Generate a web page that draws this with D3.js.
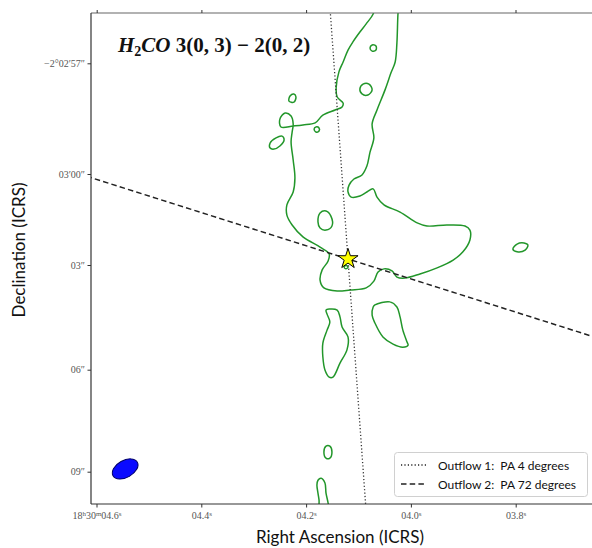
<!DOCTYPE html>
<html><head><meta charset="utf-8">
<script src="https://cdn.jsdelivr.net/npm/d3@7"></script>
<style>body{margin:0;background:#fff}svg{display:block}</style>
</head><body>
<svg id="chart" width="592" height="548"></svg>
<script>
// H2CO 3(0,3)-2(0,2) integrated-intensity contours around the protostar.
// Mark positions are offsets in arcsec from the source (east positive, north positive).

const sourceOffset = [0, 0];
const outflowPA = [4, 72];                 // position angles, degrees east of north
const outflowNames = ["Outflow 1:  PA 4 degrees", "Outflow 2:  PA 72 degrees"];
const outflowDash = ["1.2,2.2", "5.5,3.2"];

const raTicks = [4.6, 4.4, 4.2, 4.0, 3.8];  // seconds of RA (18h30m..)
const raTickLabels = [["18", "h", "30", "m", "04.6", "s"], ["04.4", "s"], ["04.2", "s"], ["04.0", "s"], ["03.8", "s"]];
const decTicks = [57, 60, 63, 66, 69];      // arcsec past -2°02'00"
const decTickLabels = ["−2°02′57″", "03′00″", "03″", "06″", "09″"];

const beamCenter = [6.38, -6.17];
const beamAxes = [0.80, 0.50];              // FWHM major, minor (arcsec)
const beamPA = -60;

// contour level 1 (closed loops, some clipped at the map edge)
const contourMain = [
  [-0.80,7.55],[-0.72,7.20],[-0.52,6.91],[-0.34,6.67],[-0.14,6.38],[0.00,6.14],[0.14,5.79],[0.26,5.50],
  [0.34,5.03],[0.31,4.76],[0.14,4.58],[0.17,4.47],[0.37,4.38],[0.72,4.23],[0.94,4.00],[1.29,3.94],
  [1.57,3.91],[1.92,3.88],[1.95,4.11],[1.80,4.29],[1.63,4.20],[1.57,3.97],[1.60,3.73],[1.63,3.44],
  [1.57,2.91],[1.52,2.38],[1.57,1.97],[1.75,1.59],[1.75,1.29],[1.60,1.00],[1.29,0.65],[0.80,0.35],
  [0.54,0.15],[0.57,-0.06],[0.74,-0.32],[0.80,-0.62],[0.69,-0.85],[0.31,-0.94],[-0.06,-0.91],[-0.52,-0.85],
  [-0.74,-0.65],[-0.86,-0.38],[-1.03,-0.29],[-1.26,-0.35],[-1.40,-0.53],[-1.63,-0.56],[-2.06,-0.44],[-2.55,-0.26],
  [-3.01,-0.03],[-3.29,0.21],[-3.49,0.56],[-3.49,0.85],[-3.35,0.97],[-2.83,1.00],[-2.26,0.97],[-1.98,1.06],
  [-1.49,1.38],[-1.03,1.59],[-0.83,1.82],[-0.72,2.06],[-0.54,1.97],[-0.34,1.85],[-0.09,1.82],[0.00,1.97],
  [-0.03,2.17],[-0.17,2.35],[-0.40,2.47],[-0.54,2.73],[-0.63,3.14],[-0.74,3.56],[-0.69,3.97],[-0.83,4.38],
  [-1.06,4.97],[-1.23,5.47],[-1.35,5.79],[-1.40,6.35],[-1.43,7.20],[-1.46,7.55]
];
const contourA = [[-0.63,6.20],[-0.69,6.29],[-0.80,6.26],[-0.80,6.14],[-0.69,6.11]];
const contourB = [[-0.34,5.00],[-0.43,5.14],[-0.60,5.14],[-0.69,4.97],[-0.57,4.82],[-0.40,4.85]];
const contourC = [[1.69,4.64],[1.66,4.79],[1.55,4.85],[1.49,4.76],[1.55,4.61]];
const contourD = [[0.97,3.82],[0.92,3.88],[0.83,3.85],[0.83,3.76],[0.92,3.73]];
const contourE = [[2.23,3.26],[2.23,3.41],[2.06,3.56],[1.89,3.61],[1.83,3.50],[1.95,3.32],[2.12,3.23]];
const contourF = [[0.86,1.09],[0.80,1.35],[0.63,1.41],[0.49,1.26],[0.46,0.97],[0.63,0.85],[0.80,0.91]];
const contourG = [[-4.72,0.29],[-4.84,0.44],[-5.04,0.47],[-5.15,0.41],[-5.07,0.26],[-4.84,0.21]];
const contourH = [[0.11,-0.24],[0.06,-0.18],[0.00,-0.24],[0.06,-0.29]];
const contourI = [
  [-0.77,-1.35],[-1.20,-1.26],[-1.40,-1.41],[-1.49,-1.70],[-1.57,-2.09],[-1.69,-2.44],[-1.72,-2.53],
  [-1.57,-2.59],[-1.29,-2.50],[-1.00,-2.29],[-0.77,-1.88],[-0.69,-1.65],[-0.72,-1.41]
];
const contourJ = [
  [0.63,-1.50],[0.54,-1.47],[0.31,-1.50],[0.23,-1.70],[0.17,-2.00],[0.00,-2.29],[0.03,-2.67],[0.23,-3.06],
  [0.43,-3.47],[0.54,-3.47],[0.66,-3.26],[0.72,-2.88],[0.72,-2.47],[0.60,-2.09],[0.52,-1.85],[0.60,-1.62]
];
const contourK = [[0.69,-5.67],[0.63,-5.50],[0.52,-5.50],[0.46,-5.67],[0.52,-5.85],[0.63,-5.85]];
const contourL = [
  [0.80,-7.44],[0.83,-7.08],[0.86,-6.88],[0.89,-6.64],[0.86,-6.50],[0.77,-6.44],[0.66,-6.58],[0.63,-6.88],
  [0.57,-7.17],[0.54,-7.44]
];
const contours = [contourMain, contourA, contourB, contourC, contourD, contourE, contourF,
                  contourG, contourH, contourI, contourJ, contourK, contourL];

const svg = d3.select("#chart");
const plot = {left: 91, right: 592, top: 13, bottom: 504};

// map offsets: east to the left, north up
const x = d3.scaleLinear().domain([7.358, -6.985]).range([plot.left, plot.right]);
const y = d3.scaleLinear().domain([7.229, -7.170]).range([plot.top, plot.bottom - 1]);

// world-coordinate tick positions along the frame
const raBottom = d3.scaleLinear().domain([4.6, 3.8]).range([96.5, 515.7]);
const raTop = d3.scaleLinear().domain([4.6, 3.8]).range([96.7, 515.5]);
const decAxis = d3.scaleLinear().domain(decTicks).range([63.3, 174, 265, 369.7, 471.7]);

svg.append("defs").append("clipPath").attr("id", "plotclip")
  .append("rect").attr("x", plot.left).attr("y", plot.top)
  .attr("width", plot.right - plot.left).attr("height", plot.bottom - plot.top);

const g = svg.append("g").attr("clip-path", "url(#plotclip)");

// contours
const contourLine = d3.line().x(d => x(d[0])).y(d => y(d[1])).curve(d3.curveCatmullRomClosed.alpha(0.5));
g.selectAll("path.contour").data(contours).join("path")
  .attr("class", "contour")
  .attr("d", contourLine)
  .attr("fill", "none")
  .attr("stroke", "#22962a")
  .attr("stroke-width", 1.5);

// outflow axes through the source
const reach = 20;
outflowPA.forEach((pa, i) => {
  const t = pa * Math.PI / 180;
  const ex = Math.sin(t), ny = Math.cos(t);
  g.append("line")
    .attr("x1", x(sourceOffset[0] - reach * ex)).attr("y1", y(sourceOffset[1] - reach * ny))
    .attr("x2", x(sourceOffset[0] + reach * ex)).attr("y2", y(sourceOffset[1] + reach * ny))
    .attr("stroke", i === 0 ? "#333" : "#222")
    .attr("stroke-width", i === 0 ? 1.3 : 1.5)
    .attr("stroke-dasharray", outflowDash[i]);
});

// synthesized beam
const pxPerArcsecX = Math.abs(x(1) - x(0));
const pxPerArcsecY = Math.abs(y(1) - y(0));
const bt = beamPA * Math.PI / 180;
const beamAngle = Math.atan2(-Math.cos(bt) * pxPerArcsecY, -Math.sin(bt) * pxPerArcsecX) * 180 / Math.PI;
g.append("ellipse")
  .attr("cx", x(beamCenter[0])).attr("cy", y(beamCenter[1]))
  .attr("rx", beamAxes[0] / 2 * pxPerArcsecX).attr("ry", beamAxes[1] / 2 * pxPerArcsecY)
  .attr("transform", `rotate(${beamAngle} ${x(beamCenter[0])} ${y(beamCenter[1])})`)
  .attr("fill", "#0a0aff").attr("stroke", "#000066").attr("stroke-width", 1);

// source
g.append("path")
  .attr("d", d3.symbol(d3.symbolStar, 125)())
  .attr("transform", `translate(${x(sourceOffset[0])},${y(sourceOffset[1])})`)
  .attr("fill", "#ffff00").attr("stroke", "#000").attr("stroke-width", 1);

// frame
svg.append("line").attr("x1", plot.left).attr("x2", plot.right).attr("y1", plot.top).attr("y2", plot.top)
  .attr("stroke", "#666").attr("stroke-width", 1.2);
svg.append("line").attr("x1", plot.left).attr("x2", plot.right).attr("y1", plot.bottom).attr("y2", plot.bottom)
  .attr("stroke", "#333").attr("stroke-width", 1.2);
svg.append("line").attr("x1", plot.left).attr("x2", plot.left).attr("y1", plot.top).attr("y2", plot.bottom)
  .attr("stroke", "#333").attr("stroke-width", 1.2);

const tickFont = "'Liberation Serif', 'DejaVu Serif', serif";

// RA axis (bottom) with labels, top frame ticks only
const xAxis = svg.append("g").attr("transform", `translate(0,${plot.bottom})`)
  .call(d3.axisBottom(raBottom).tickValues(raTicks).tickSize(3.5).tickFormat(""));
xAxis.select(".domain").remove();
xAxis.selectAll(".tick line").attr("stroke", "#333");
xAxis.selectAll(".tick").each(function(d, i) {
  const parts = raTickLabels[i];
  const t = d3.select(this).append("text").attr("y", 15).attr("text-anchor", "middle")
    .attr("fill", "#555").style("font-family", tickFont).style("font-size", "10px");
  parts.forEach((p, j) => {
    const sup = j % 2 === 1;
    t.append("tspan").text(p)
      .attr("dy", sup ? -3.5 : (j > 0 ? 3.5 : 0))
      .style("font-size", sup ? "7px" : "10px");
  });
});

const topAxis = svg.append("g").attr("transform", `translate(0,${plot.top})`)
  .call(d3.axisTop(raTop).tickValues(raTicks).tickSize(3).tickFormat(""));
topAxis.select(".domain").remove();
topAxis.selectAll(".tick line").attr("stroke", "#333");

// Dec axis (left)
const yAxis = svg.append("g").attr("transform", `translate(${plot.left},0)`)
  .call(d3.axisLeft(decAxis).tickValues(decTicks).tickSize(3.5).tickFormat((d, i) => decTickLabels[i]));
yAxis.select(".domain").remove();
yAxis.selectAll(".tick line").attr("stroke", "#333");
yAxis.selectAll(".tick text").attr("x", -6).attr("fill", "#555")
  .style("font-family", tickFont).style("font-size", "10px");

// axis titles
const sansFont = "Lato, 'Open Sans', 'DejaVu Sans', sans-serif";
svg.append("text").attr("x", 340).attr("y", 543).attr("text-anchor", "middle")
  .style("font-family", sansFont).style("font-size", "17px").attr("fill", "#111")
  .text("Right Ascension (ICRS)");
svg.append("text").attr("transform", "translate(25,250) rotate(-90)").attr("text-anchor", "middle")
  .style("font-family", sansFont).style("font-size", "17px").attr("fill", "#111")
  .text("Declination (ICRS)");

// title
const title = svg.append("text").attr("x", 118).attr("y", 52)
  .style("font-family", "'Liberation Serif', 'DejaVu Serif', serif")
  .style("font-size", "21px").style("font-weight", "bold").attr("fill", "#111");
title.append("tspan").text("H").style("font-style", "italic");
title.append("tspan").text("2").attr("dy", 4).style("font-size", "14px");
title.append("tspan").text("CO").attr("dy", -4).style("font-style", "italic");
title.append("tspan").text(" 3(0, 3) − 2(0, 2)");

// legend
const legend = svg.append("g");
legend.append("rect").attr("x", 394.5).attr("y", 452.5).attr("width", 193).attr("height", 44)
  .attr("rx", 3).attr("fill", "#fff").attr("fill-opacity", 0.85).attr("stroke", "#d0d0d0");
outflowNames.forEach((name, i) => {
  const ly = 465 + i * 19;
  legend.append("line").attr("x1", 401).attr("x2", 427).attr("y1", ly).attr("y2", ly)
    .attr("stroke", "#222").attr("stroke-width", i === 0 ? 1.3 : 1.5)
    .attr("stroke-dasharray", outflowDash[i]);
  legend.append("text").attr("x", 438).attr("y", ly + 4.5)
    .style("font-family", sansFont).style("font-size", "12px").attr("fill", "#111")
    .style("white-space", "pre").text(name);
});
</script>
</body></html>
